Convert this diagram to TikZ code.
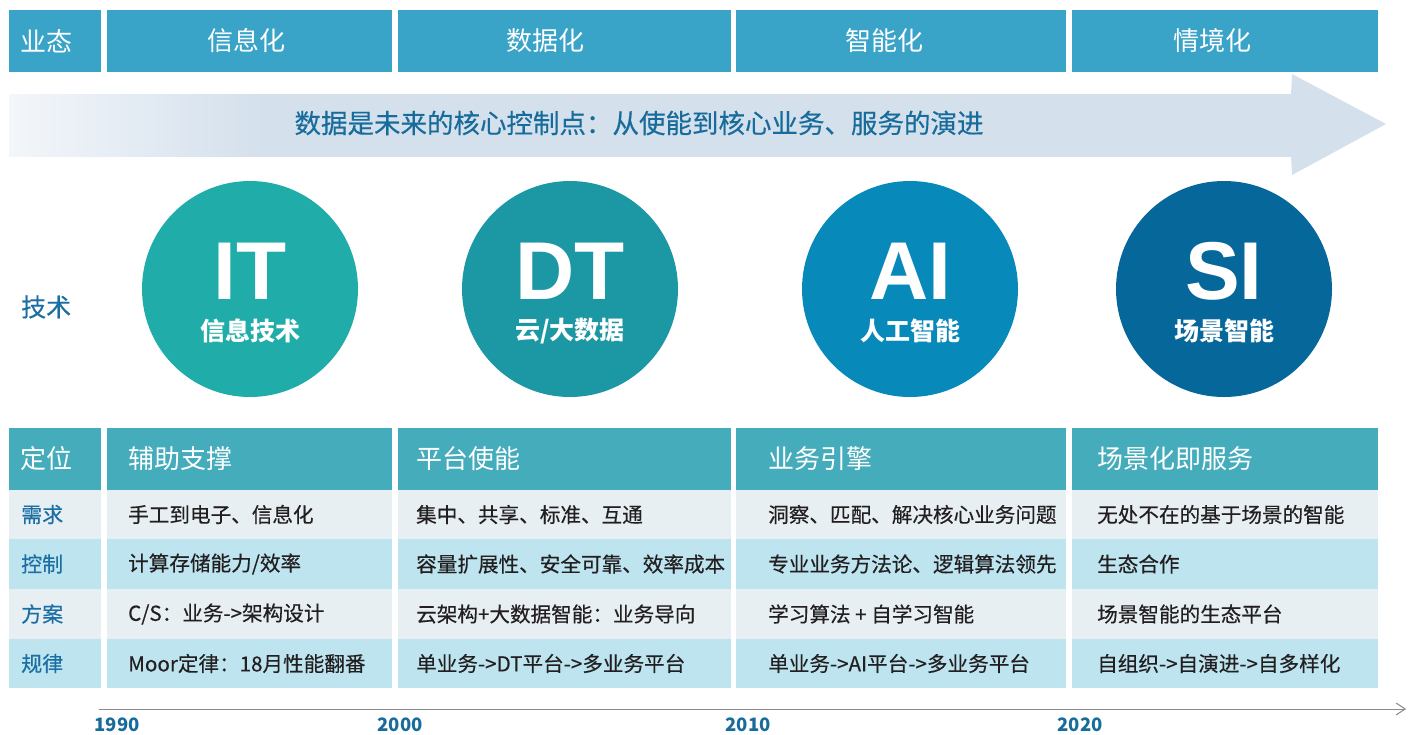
\documentclass[tikz,border=0pt]{standalone}
\usepackage{fontspec}
\setmainfont{Noto Sans CJK SC}
\newfontfamily\medfont{Noto Sans CJK SC}[FakeBold=0.35]
\newfontfamily\bigfont{Liberation Sans}
\usetikzlibrary{arrows.meta}
\definecolor{hdr}{HTML}{3AA3C8}
\definecolor{band}{HTML}{D4E0EC}
\definecolor{bandL}{HTML}{F3F6FA}
\definecolor{bandtxt}{HTML}{176C9C}
\definecolor{itc}{HTML}{20ADA9}
\definecolor{dtc}{HTML}{1C97A4}
\definecolor{aic}{HTML}{0789BA}
\definecolor{sic}{HTML}{05679A}
\definecolor{thdr}{HTML}{45ACBB}
\definecolor{rowA}{HTML}{E7EFF2}
\definecolor{rowB}{HTML}{BDE4EF}
\definecolor{lblue}{HTML}{1A6EA3}
\definecolor{ctext}{HTML}{231F20}
\definecolor{yearc}{HTML}{186C9A}
\definecolor{tline}{HTML}{8A8A8A}
\pgfdeclarehorizontalshading{bandshade}{100bp}{color(0bp)=(bandL); color(25bp)=(bandL); color(35bp)=(band); color(100bp)=(band)}
\tikzset{
  hdrtxt/.style={text=white, font=\fontsize{26}{30}\selectfont, inner sep=0pt},
  bandlbl/.style={text=bandtxt, font=\medfont\fontsize{26.5}{30}\selectfont, inner sep=0pt},
  disc/.style={circle, minimum size=216pt, inner sep=0pt, draw=none},
  bigtxt/.style={text=white, font=\bigfont\bfseries\fontsize{82}{82}\selectfont, inner sep=0pt},
  subtxt/.style={text=white, font=\bfseries\fontsize{25}{28}\selectfont, inner sep=0pt},
  sidelbl/.style={text=lblue, font=\medfont\fontsize{25}{28}\selectfont, inner sep=0pt, anchor=west},
  thtxt/.style={text=white, font=\fontsize{26}{30}\selectfont, inner sep=0pt, anchor=west},
  rowlbl/.style={text=lblue, font=\medfont\fontsize{21}{25}\selectfont, inner sep=0pt, anchor=west},
  celltxt/.style={text=ctext, font=\medfont\fontsize{20.6}{25}\selectfont, inner sep=0pt, anchor=west},
  yeartxt/.style={text=yearc, font=\bfseries\fontsize{18.5}{20}\selectfont, inner sep=0pt},
}
\begin{document}
\begin{tikzpicture}[x=1pt,y=-1pt]
\useasboundingbox (0,0) rectangle (1408,734);

% ---- top header row
\fill[hdr] (9,10) rectangle (101,72);
\fill[hdr] (107,10) rectangle (392,72);
\fill[hdr] (398,10) rectangle (731,72);
\fill[hdr] (736,10) rectangle (1066,72);
\fill[hdr] (1072,10) rectangle (1378,72);
\node[hdrtxt, anchor=west] (h0) at (20,41) {业态};
\node[hdrtxt] (h1) at (246,41) {信息化};
\node[hdrtxt] (h2) at (545,41) {数据化};
\node[hdrtxt] (h3) at (884,41) {智能化};
\node[hdrtxt] (h4) at (1212,41) {情境化};

% ---- big arrow band
\fill[band] (1291,94) -- (1292,74) -- (1386,124) -- (1292,175) -- (1291,156) -- cycle;
\shade[shading=bandshade] (9,94) rectangle (1292,156);
\node[bandlbl] (bandtext) at (639,123) {数据是未来的核心控制点：从使能到核心业务、服务的演进};

% ---- technology circles
\node[sidelbl] (tech) at (21,307) {技术};
\node[disc, fill=itc] (cIT) at (250,289) {};
\node[disc, fill=dtc] (cDT) at (570,289) {};
\node[disc, fill=aic] (cAI) at (910,289) {};
\node[disc, fill=sic] (cSI) at (1224,289) {};
\node[bigtxt] (bIT) at (250,271) {IT};
\node[bigtxt] (bDT) at (570,271) {DT};
\node[bigtxt] (bAI) at (910,271) {AI};
\node[bigtxt] (bSI) at (1224,271) {SI};
\node[subtxt] (sIT) at (250,331) {信息技术};
\node[subtxt] (sDT) at (570,331) {云/大数据};
\node[subtxt] (sAI) at (910,331) {人工智能};
\node[subtxt] (sSI) at (1224,331) {场景智能};

% ---- table
\foreach \xa/\xb in {9/101, 107/392, 398/731, 736/1066, 1072/1378}{
  \fill[thdr] (\xa,428) rectangle (\xb,490);
  \fill[rowA] (\xa,490) rectangle (\xb,539);
  \fill[rowB] (\xa,539) rectangle (\xb,589);
  \fill[rowA] (\xa,589) rectangle (\xb,639);
  \fill[rowB] (\xa,639) rectangle (\xb,688);
}
\node[thtxt] (p0) at (20,459) {定位};
\node[thtxt] (p1) at (128,459) {辅助支撑};
\node[thtxt] (p2) at (416,459) {平台使能};
\node[thtxt] (p3) at (768,459) {业务引擎};
\node[thtxt] (p4) at (1097,459) {场景化即服务};

\node[rowlbl] (r1) at (21,514.5) {需求};
\node[rowlbl] (r2) at (21,564) {控制};
\node[rowlbl] (r3) at (21,614) {方案};
\node[rowlbl] (r4) at (21,663.5) {规律};

\node[celltxt] (a1) at (128,514.5) {手工到电子、信息化};
\node[celltxt] (a2) at (128,564) {计算存储能力/效率};
\node[celltxt] (a3) at (128,614) {C/S：业务->架构设计};
\node[celltxt] (a4) at (128,663.5) {Moor定律：18月性能翻番};

\node[celltxt] (b1) at (416,514.5) {集中、共享、标准、互通};
\node[celltxt] (b2) at (416,564) {容量扩展性、安全可靠、效率成本};
\node[celltxt] (b3) at (416,614) {云架构+大数据智能：业务导向};
\node[celltxt] (b4) at (416,663.5) {单业务->DT平台->多业务平台};

\node[celltxt] (c1) at (768,514.5) {洞察、匹配、解决核心业务问题};
\node[celltxt] (c2) at (768,564) {专业业务方法论、逻辑算法领先};
\node[celltxt] (c3) at (768,614) {学习算法 + 自学习智能};
\node[celltxt] (c4) at (768,663.5) {单业务->AI平台->多业务平台};

\node[celltxt] (d1) at (1097,514.5) {无处不在的基于场景的智能};
\node[celltxt] (d2) at (1097,564) {生态合作};
\node[celltxt] (d3) at (1097,614) {场景智能的生态平台};
\node[celltxt] (d4) at (1097,663.5) {自组织->自演进->自多样化};

% ---- timeline
\coordinate (t0) at (99,709);
\coordinate (t1) at (1406,709);
\draw[tline, line width=1pt, -{Straight Barb[length=9pt,width=12pt,line width=1pt]}] (t0) -- (t1);
\node[yeartxt] (y1) at (117,725) {1990};
\node[yeartxt] (y2) at (400,725) {2000};
\node[yeartxt] (y3) at (748,725) {2010};
\node[yeartxt] (y4) at (1080,725) {2020};
\end{tikzpicture}
\end{document}
